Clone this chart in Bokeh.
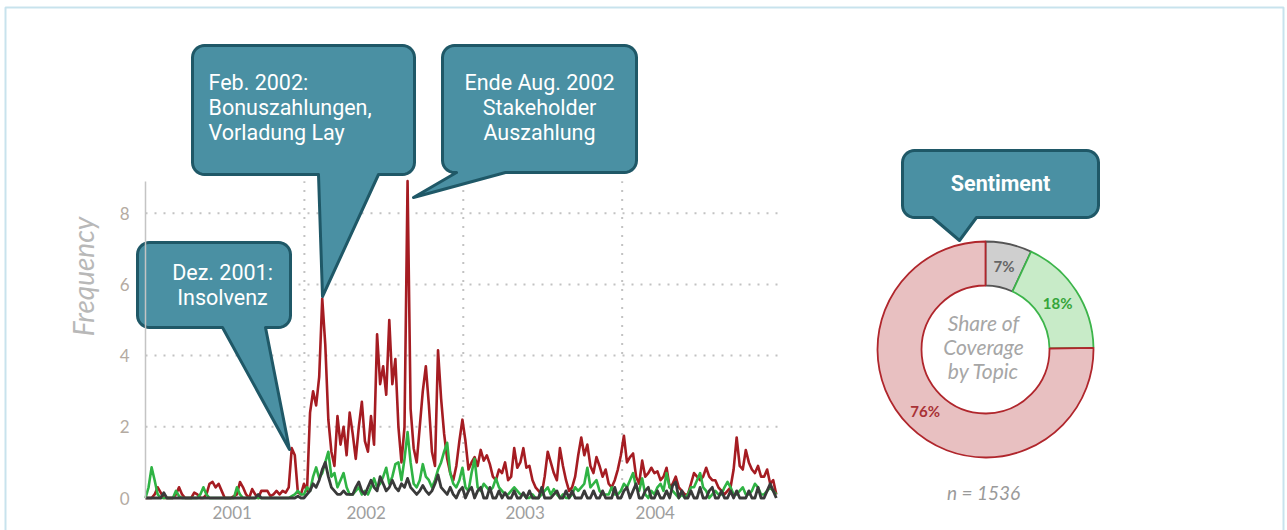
import numpy as np
import pandas as pd
from bokeh.plotting import figure
from bokeh.models import (Range1d, FixedTicker, Label, BoxAnnotation,
                          DatetimeTickFormatter)
from bokeh.core.properties import value
from bokeh.embed import file_html
from bokeh.resources import INLINE

# ---------------- data ----------------
start_date = "2001-01-01"          # weekly series start
red = [
    0, 0, 0, 0.1, 0.3, 0.15, 0, 0, 0, 0,
    0.1, 0.3, 0.1, 0, 0, 0, 0.15, 0.1, 0, 0,
    0.1, 0.4, 0.45, 0.3, 0.4, 0.2, 0, 0, 0, 0.05,
    0.1, 0.45, 0.3, 0.1, 0, 0.25, 0.1, 0, 0.2, 0.2,
    0.2, 0.05, 0.1, 0.2, 0.1, 0.2, 0.15, 0.3, 1.4, 1.2,
    0.15, 0.1, 0.4, 0.2, 2.4, 3.0, 2.6, 3.4, 5.6, 4.3,
    2.2, 1.3, 0.9, 2.3, 1.5, 2.0, 1.2, 2.4, 1.8, 1.1,
    2.0, 2.7, 1.6, 1.3, 2.3, 1.5, 4.6, 3.2, 3.7, 2.9,
    5.0, 3.2, 3.9, 2.0, 1.0, 2.0, 8.9, 2.5, 1.4, 1.0,
    2.0, 3.0, 3.7, 2.6, 1.3, 0.9, 4.15, 2.8, 1.8, 1.1,
    0.7, 0.5, 0.9, 1.6, 2.2, 1.6, 0.8, 1.0, 1.15, 0.9,
    1.35, 1.05, 1.2, 0.95, 0.6, 0.5, 0.8, 0.7, 1.0, 0.5,
    0.6, 1.4, 0.85, 1.0, 1.4, 0.85, 0.9, 0.5, 0.3, 0.2,
    0.1, 0.6, 1.3, 1.0, 0.7, 0.5, 1.4, 0.9, 0.5, 0.2,
    0.3, 0.6, 1.2, 1.7, 1.2, 1.5, 0.9, 0.7, 1.15, 0.9,
    0.6, 0.8, 0.4, 0.3, 0.5, 0.8, 1.2, 1.75, 1.0, 1.15,
    1.25, 0.6, 0.4, 1.05, 0.6, 0.7, 0.85, 0.7, 0.75, 0.5,
    0.6, 0.85, 0.3, 0.4, 0.6, 0.3, 0.2, 0.1, 0.1, 0.4,
    0.7, 0.6, 0.5, 0.6, 0.85, 0.6, 0.5, 0.5, 0.3, 0.2,
    0.1, 0.2, 0.3, 0.8, 1.7, 0.9, 0.8, 1.35, 1.0, 0.8,
    0.7, 0.9, 0.6, 0.6, 0.8, 0.4, 0.5, 0.1,
]
green = [
    0, 0.3, 0.86, 0.5, 0.1, 0, 0, 0, 0, 0,
    0.2, 0.05, 0, 0, 0, 0, 0, 0, 0.1, 0.3,
    0.1, 0, 0, 0, 0, 0, 0, 0, 0, 0,
    0.3, 0.1, 0, 0, 0, 0, 0, 0, 0, 0,
    0, 0, 0, 0, 0, 0, 0, 0, 0.05, 0.1,
    0.2, 0.1, 0.1, 0.3, 0.2, 0.6, 0.86, 0.55, 0.7, 1.0,
    1.3, 0.6, 0.7, 0.3, 0.5, 0.7, 0.3, 0.1, 0.1, 0.2,
    0.3, 0.1, 0.2, 0.1, 0.3, 0.55, 0.3, 0.4, 0.6, 0.85,
    0.4, 0.6, 0.95, 1.0, 0.5, 1.1, 1.85, 1.0, 0.4, 0.3,
    0.5, 0.95, 0.6, 0.5, 0.3, 0.5, 0.8, 1.0, 1.3, 1.55,
    0.7, 0.4, 0.3, 0.5, 0.85, 0.3, 0.2, 0.7, 1.1, 0.3,
    0.2, 0.4, 0.3, 0.2, 0.3, 0.55, 0.3, 0.2, 0.1, 0.1,
    0.2, 0.3, 0.2, 0.1, 0.1, 0, 0, 0.1, 0, 0,
    0.1, 0.2, 0.3, 0.1, 0.25, 0.1, 0, 0.1, 0, 0,
    0.1, 0.3, 0.2, 0.3, 0.4, 0.85, 0.3, 0.4, 0.5, 0.2,
    0.1, 0.1, 0.1, 0.3, 0.1, 0.1, 0.2, 0.4, 0.3, 0.5,
    0.7, 0.3, 0.2, 0.55, 0.1, 0, 0.2, 0.1, 0.3, 0.4,
    0.2, 0.7, 0.3, 0.2, 0.1, 0, 0.1, 0, 0.1, 0.3,
    0.3, 0.5, 0.7, 0.3, 0.2, 0, 0.1, 0.2, 0.1, 0.1,
    0.3, 0.45, 0.3, 0.1, 0.1, 0.2, 0.3, 0.1, 0.1, 0.2,
    0.4, 0.3, 0.1, 0.1, 0.2, 0.3, 0.2, 0.1,
]
black = [
    0, 0, 0, 0, 0, 0, 0.15, 0, 0, 0,
    0, 0, 0, 0, 0, 0, 0, 0, 0, 0,
    0, 0, 0, 0, 0, 0, 0, 0, 0, 0,
    0, 0, 0, 0, 0, 0, 0, 0.1, 0, 0,
    0, 0, 0, 0, 0, 0, 0, 0, 0, 0,
    0.05, 0, 0, 0.1, 0.2, 0.4, 0.3, 0.5, 0.8, 1.0,
    0.6, 0.3, 0.2, 0.1, 0.1, 0.2, 0.1, 0.1, 0.1, 0.3,
    0.45, 0.2, 0.1, 0.3, 0.5, 0.3, 0.2, 0.6, 0.4, 0.2,
    0.3, 0.5, 0.3, 0.2, 0.4, 0.3, 0.55, 0.3, 0.2, 0.1,
    0.2, 0.35, 0.2, 0.1, 0.2, 0.4, 0.65, 0.3, 0.2, 0.1,
    0.3, 0.1, 0, 0.2, 0.3, 0, 0.2, 0.3, 0, 0.2,
    0.3, 0, 0, 0.3, 0, 0, 0.2, 0, 0.15, 0,
    0, 0.2, 0, 0, 0.15, 0, 0.2, 0, 0, 0,
    0.3, 0, 0, 0, 0.1, 0.2, 0, 0, 0.2, 0,
    0.2, 0, 0, 0, 0.2, 0, 0, 0.2, 0, 0,
    0.2, 0, 0, 0, 0.3, 0, 0, 0.2, 0.3, 0,
    0.2, 0.4, 0, 0, 0.2, 0.3, 0, 0, 0.2, 0,
    0, 0.2, 0, 0.35, 0.45, 0, 0.2, 0, 0, 0.2,
    0, 0, 0.3, 0, 0, 0.2, 0.3, 0, 0, 0.2,
    0, 0, 0.2, 0, 0.2, 0, 0, 0, 0.2, 0,
    0, 0.3, 0, 0, 0.2, 0.4, 0.2, 0,
]
tick_dates = ["2001-07-19", "2002-05-23", "2003-05-23", "2004-03-17"]
tick_labels = ["2001", "2002", "2003", "2004"]
year_starts = ["2002-01-01", "2003-01-01", "2004-01-01"]
grid_end = "2004-12-31"
y_ticks = [0, 2, 4, 6, 8]
y_grid = [2, 4, 6, 8]
y_top = 8.9

shares = [7, 18, 76]
share_labels = ["7%", "18%", "76%"]
share_fill = ["#cfcfcf", "#c8ebc8", "#e8c0c1"]
share_line = ["#555555", "#3cb44a", "#b0262c"]
share_text = ["#666666", "#35a53a", "#a83236"]
n_total = 1536

# ---------------- figure ----------------
W, H = 1287, 530
AX_X = 145            # pixel of the y axis (start of 2001)
AX_Y = 497.5          # pixel of y = 0
PX_PER_YEAR = 159.0
PX_PER_UNIT = 35.6
YEAR = pd.Timedelta(days=365.25)
t0 = pd.Timestamp(start_date)
x_lo = t0 - YEAR * (AX_X / PX_PER_YEAR)
x_hi = t0 + YEAR * ((W - AX_X) / PX_PER_YEAR)
y_lo = -(H - AX_Y) / PX_PER_UNIT
y_hi = AX_Y / PX_PER_UNIT

p = figure(width=W, height=H, x_axis_type="datetime",
           x_range=Range1d(x_lo, x_hi), y_range=Range1d(y_lo, y_hi),
           toolbar_location=None, output_backend="svg", min_border=0)
p.outline_line_color = None
p.background_fill_color = "white"
p.border_fill_color = "white"
p.grid.visible = False

# helper ranges in pixels (x = pixel x, y = H - pixel y)
p.extra_x_ranges = {"cx": Range1d(0, W)}
p.extra_y_ranges = {"cy": Range1d(0, H)}
def Y(py):
    return H - py

dates = pd.date_range(start_date, periods=len(red), freq="7D")

# dotted grid lines
gx0 = [t0] * len(y_grid)
gx1 = [pd.Timestamp(grid_end)] * len(y_grid)
p.segment(x0=gx0, y0=y_grid, x1=gx1, y1=y_grid, line_color="#c2c2c2",
          line_width=2, line_dash="2 7")
ys_ = [pd.Timestamp(d) for d in year_starts]
p.segment(x0=ys_, y0=[0] * len(ys_), x1=ys_, y1=[y_top] * len(ys_),
          line_color="#c2c2c2", line_width=2, line_dash="2 7")

# series
p.line(dates, red, line_color="#a51c22", line_width=2.6, line_join="round")
p.line(dates, green, line_color="#2fb344", line_width=2.6, line_join="round")
p.line(dates, black, line_color="#3a3a3a", line_width=2.8, line_join="round")

# axes placed at data locations (inside the frame)
p.yaxis.fixed_location = t0.value / 1e6
p.yaxis.ticker = FixedTicker(ticks=y_ticks)
p.yaxis.bounds = (0, y_top)
p.yaxis.axis_line_color = "#c4c4c4"
p.yaxis.axis_line_width = 1.5
p.yaxis.major_tick_line_color = None
p.yaxis.minor_tick_line_color = None
p.yaxis.major_label_text_font = "Lato"
p.yaxis.major_label_text_font_size = "17px"
p.yaxis.major_label_text_color = "#b4aba2"
p.yaxis.major_label_standoff = 10

tick_ms = [int(pd.Timestamp(d).value // 10**6) for d in tick_dates]
p.xaxis.fixed_location = 0
p.xaxis.ticker = FixedTicker(ticks=tick_ms)
p.xaxis.formatter = DatetimeTickFormatter(years="%Y", months="%Y", days="%Y",
                                          hours="%Y", context=None)
p.xaxis.major_label_overrides = {m: lab for m, lab in zip(tick_ms, tick_labels)}
p.xaxis.axis_line_color = None
p.xaxis.major_tick_line_color = None
p.xaxis.minor_tick_line_color = None
p.xaxis.major_tick_out = 0
p.xaxis.major_label_text_font = "Lato"
p.xaxis.major_label_text_font_size = "17px"
p.xaxis.major_label_text_color = "#9e9e9e"
p.xaxis.major_label_standoff = 8

p.add_layout(Label(x=82, y=Y(276), text="Frequency", angle=np.pi / 2,
                   x_range_name="cx", y_range_name="cy",
                   text_align="center", text_baseline="middle",
                   text_font="Lato", text_font_style="italic",
                   text_font_size="28px", text_color="#b8b8b8"))

# ---------------- donut ----------------
DCX, DCY = 985, 349
frac = np.array(shares, dtype=float) / sum(shares)
cum = np.concatenate([[0], np.cumsum(frac)])
starts = np.pi / 2 - 2 * np.pi * cum[:-1]
ends = np.pi / 2 - 2 * np.pi * cum[1:]
p.annular_wedge(x=[DCX] * 3, y=[Y(DCY)] * 3, inner_radius=64, outer_radius=108,
                start_angle=list(starts), end_angle=list(ends), direction="clock",
                fill_color=share_fill, line_color=share_line, line_width=1.8,
                x_range_name="cx", y_range_name="cy")
mid = (starts + ends) / 2
p.text(x=list(DCX + 86 * np.cos(mid)), y=list(Y(DCY) + 86 * np.sin(mid)),
       text=share_labels, text_color=share_text, text_font=value("Lato"),
       text_font_style="bold", text_font_size="15px", text_align="center",
       text_baseline="middle", x_range_name="cx", y_range_name="cy")

for txt, py in zip(["Share of", "Coverage", "by Topic"], [322, 346, 370]):
    p.add_layout(Label(x=983, y=Y(py), text=txt, x_range_name="cx", y_range_name="cy",
                       text_align="center", text_baseline="middle", text_font="Lato",
                       text_font_style="italic", text_font_size="21px",
                       text_color="#a6a6a6"))
p.add_layout(Label(x=983, y=Y(492), text=f"n = {n_total}", x_range_name="cx",
                   y_range_name="cy", text_align="center", text_baseline="middle",
                   text_font="Lato", text_font_style="italic", text_font_size="19px",
                   text_color="#9a9a9a"))

# ---------------- callouts ----------------
def callout(x0, y0, x1, y1, b0, b1, tip, r=12):
    def arc(cx, cy, a0, a1):
        t = np.radians(np.linspace(a0, a1, 8))
        return list(zip(cx + r * np.cos(t), cy + r * np.sin(t)))
    pts = []
    pts += arc(x0 + r, y0 + r, 180, 270)
    pts += arc(x1 - r, y0 + r, 270, 360)
    pts += arc(x1 - r, y1 - r, 0, 90)
    pts += [(b1, y1), tip, (b0, y1)]
    pts += arc(x0 + r, y1 - r, 90, 180)
    xs = [float(a) for a, _ in pts]
    ys = [float(Y(b)) for _, b in pts]
    p.patch(xs, ys, fill_color="#4a90a3", line_color="#1f5867", line_width=3,
            line_join="round", x_range_name="cx", y_range_name="cy")

def ctext(x, py, txt, align="center", weight="normal"):
    p.add_layout(Label(x=x, y=Y(py), text=txt, x_range_name="cx", y_range_name="cy",
                       text_align=align, text_baseline="middle", text_font="Roboto",
                       text_font_style=weight, text_font_size="21.5px",
                       text_color="white"))

callout(137, 242, 290, 327, 222, 265, (289, 449))
ctext(222, 272, "Dez. 2001:")
ctext(222, 297, "Insolvenz")

callout(192, 45, 414, 174, 318, 378, (322, 296))
for t, py in zip(["Feb. 2002:", "Bonuszahlungen,", "Vorladung Lay"], [82, 107, 132]):
    ctext(208, py, t, align="left")

callout(442, 45, 636, 172, 456, 505, (413, 197))
for t, py in zip(["Ende Aug. 2002", "Stakeholder", "Auszahlung"], [82, 107, 132]):
    ctext(539, py, t)

callout(902, 150, 1098, 217, 932, 976, (959, 240))
ctext(1000, 183, "Sentiment", weight="bold")

# outer border
p.add_layout(BoxAnnotation(left=5, right=1283, top=Y(7), bottom=Y(560),
                           fill_color=None, line_color="#4aa3c3", line_width=2,
                           x_range_name="cx", y_range_name="cy"))

open("out.html", "w").write(file_html(p, INLINE))
